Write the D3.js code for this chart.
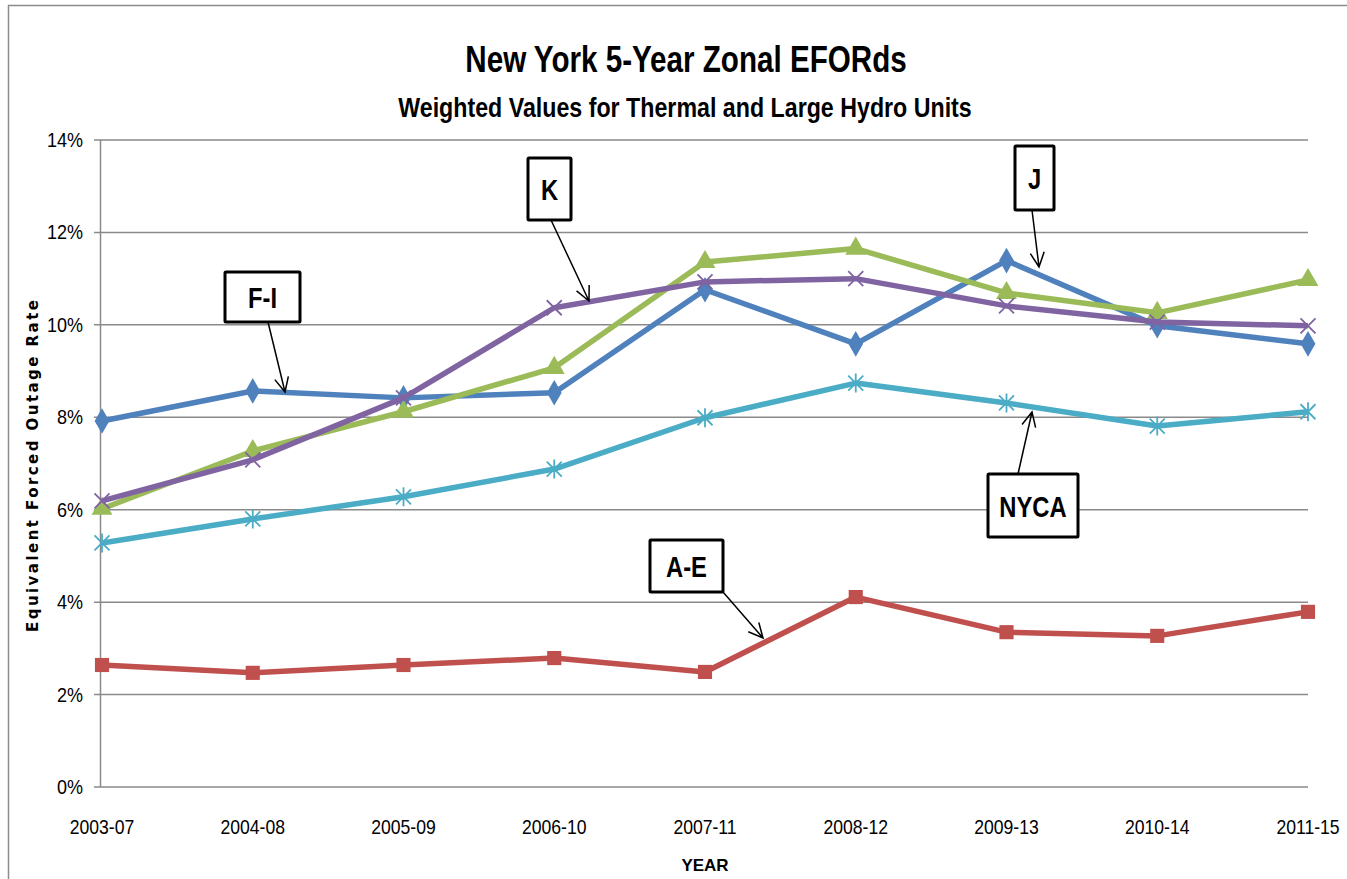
<!DOCTYPE html>
<html>
<head>
<meta charset="utf-8">
<script src="https://cdn.jsdelivr.net/npm/d3@7"></script>
<style>
  body { margin: 0; background: #fff; }
  text { font-family: "Liberation Sans", Arial, sans-serif; }
</style>
</head>
<body>
<script>
(function (d3) {
  'use strict'
  const w = 1347
  const h = 879

  const years = ['2003-07', '2004-08', '2005-09', '2006-10', '2007-11', '2008-12', '2009-13', '2010-14', '2011-15']
  const fi   = [7.92, 8.57, 8.42, 8.53, 10.76, 9.59, 11.39, 9.98, 9.59]
  const ae   = [2.64, 2.47, 2.64, 2.79, 2.49, 4.11, 3.35, 3.27, 3.79]
  const j    = [6.02, 7.27, 8.12, 9.07, 11.36, 11.65, 10.69, 10.26, 10.97]
  const k    = [6.19, 7.08, 8.42, 10.37, 10.93, 11.0, 10.41, 10.06, 9.98]
  const nyca = [5.28, 5.80, 6.28, 6.88, 7.99, 8.74, 8.31, 7.81, 8.12]
  const yTicks = [0, 2, 4, 6, 8, 10, 12, 14]

  const series = [
    { name: 'F-I', values: fi, color: '#4F81BD', marker: 'diamond' },
    { name: 'A-E', values: ae, color: '#C0504D', marker: 'square' },
    { name: 'J', values: j, color: '#9BBB59', marker: 'triangle' },
    { name: 'K', values: k, color: '#8064A2', marker: 'cross' },
    { name: 'NYCA', values: nyca, color: '#4BACC6', marker: 'star' }
  ]

  // callout boxes: box left/top/width/height, arrow from -> to
  const callouts = [
    { text: 'F-I', x: 225, y: 272, bw: 75, bh: 50, from: [268, 322], to: [285, 392] },
    { text: 'K', x: 528, y: 158, bw: 43, bh: 62, from: [551, 220], to: [589, 301] },
    { text: 'J', x: 1015, y: 146, bw: 39, bh: 64, from: [1032, 210], to: [1039, 267] },
    { text: 'NYCA', x: 988, y: 474, bw: 90, bh: 63, from: [1018, 474], to: [1032, 412] },
    { text: 'A-E', x: 650, y: 540, bw: 73, bh: 52, from: [723, 592], to: [763, 638] }
  ]

  const svg = d3.select('body').append('svg')
    .attr('width', w)
    .attr('height', h)

  // narrow text, a stand-in for the condensed original face
  function narrow (sel, x0, y0, sx) {
    return sel.attr('transform', 'translate(' + x0 + ',' + y0 + ') scale(' + sx + ',1)')
  }

  // outer chart border
  svg.append('path')
    .attr('d', 'M8.5,' + h + 'V5.5H' + w)
    .attr('fill', 'none')
    .attr('stroke', '#8c8c8c')
    .attr('stroke-width', 1.5)

  const x = d3.scalePoint().domain(years).range([102, 1308])
  const y = d3.scaleLinear().domain([0, 14]).range([787, 140])

  // gridlines
  svg.append('g')
    .selectAll('line')
    .data(yTicks)
    .enter().append('line')
    .attr('x1', 94)
    .attr('x2', 1308)
    .attr('y1', d => y(d))
    .attr('y2', d => y(d))
    .attr('stroke', '#8a8a8a')
    .attr('stroke-width', 1.5)

  svg.append('line')
    .attr('x1', 100.5).attr('x2', 100.5)
    .attr('y1', y(14)).attr('y2', y(0))
    .attr('stroke', '#8a8a8a')
    .attr('stroke-width', 1.5)

  svg.append('g')
    .selectAll('text')
    .data(yTicks)
    .enter().append('text')
    .each(function (d) { narrow(d3.select(this), 83, y(d) + 7, 0.9) })
    .attr('text-anchor', 'end')
    .attr('font-size', 20)
    .text(d => d + '%')

  svg.append('g')
    .selectAll('text')
    .data(years)
    .enter().append('text')
    .each(function (d) { narrow(d3.select(this), x(d), 834, 0.88) })
    .attr('text-anchor', 'middle')
    .attr('font-size', 20)
    .text(d => d)

  // titles
  narrow(svg.append('text'), 686, 72, 0.8)
    .attr('text-anchor', 'middle')
    .attr('font-size', 37)
    .attr('font-weight', 'bold')
    .text('New York 5-Year Zonal EFORds')

  narrow(svg.append('text'), 685, 117, 0.86)
    .attr('text-anchor', 'middle')
    .attr('font-size', 27)
    .attr('font-weight', 'bold')
    .text('Weighted Values for Thermal and Large Hydro Units')

  svg.append('text')
    .attr('transform', 'translate(38,466) rotate(-90)')
    .attr('text-anchor', 'middle')
    .attr('font-size', 15)
    .attr('font-weight', 'bold')
    .attr('textLength', 332)
    .attr('lengthAdjust', 'spacing')
    .style('font-family', 'DejaVu Sans, sans-serif')
    .text('Equivalent Forced Outage Rate')

  svg.append('text')
    .attr('x', 705).attr('y', 871)
    .attr('text-anchor', 'middle')
    .attr('font-size', 17)
    .attr('font-weight', 'bold')
    .text('YEAR')

  const line = d3.line()
    .x((d, i) => x(years[i]))
    .y(d => y(d))

  const symbols = {
    diamond: d3.symbol().type(d3.symbolDiamond).size(190),
    square: d3.symbol().type(d3.symbolSquare).size(200),
    triangle: d3.symbol().type(d3.symbolTriangle).size(190)
  }

  series.forEach(function (s) {
    const g = svg.append('g')
    g.append('path')
      .datum(s.values)
      .attr('d', line)
      .attr('fill', 'none')
      .attr('stroke', s.color)
      .attr('stroke-width', 5.5)
      .attr('stroke-linejoin', 'round')

    const pts = g.selectAll('.pt')
      .data(s.values)
      .enter().append('g')
      .attr('transform', (d, i) => 'translate(' + x(years[i]) + ',' + y(d) + ')')

    if (symbols[s.marker]) {
      pts.append('path')
        .attr('d', symbols[s.marker]())
        .attr('fill', s.color)
    } else {
      const r = 7.5
      pts.append('path')
        .attr('d', 'M' + -r + ',' + -r + 'L' + r + ',' + r + 'M' + -r + ',' + r + 'L' + r + ',' + -r +
          (s.marker === 'star' ? 'M0,' + (-r - 2) + 'V' + (r + 2) : ''))
        .attr('stroke', s.color)
        .attr('stroke-width', 1.8)
        .attr('fill', 'none')
    }
  })

  // callouts
  const cg = svg.append('g')
  callouts.forEach(function (c) {
    cg.append('rect')
      .attr('x', c.x).attr('y', c.y)
      .attr('width', c.bw).attr('height', c.bh)
      .attr('fill', '#fff')
      .attr('stroke', '#000')
      .attr('stroke-width', 3)
      .attr('rx', 1)
    narrow(cg.append('text'), c.x + c.bw / 2, c.y + c.bh / 2 + 11, 0.82)
      .attr('text-anchor', 'middle')
      .attr('font-size', 29)
      .attr('font-weight', 'bold')
      .text(c.text)

    const ang = Math.atan2(c.to[1] - c.from[1], c.to[0] - c.from[0])
    const hl = 16
    const spread = 0.45
    const p1 = [c.to[0] - hl * Math.cos(ang - spread), c.to[1] - hl * Math.sin(ang - spread)]
    const p2 = [c.to[0] - hl * Math.cos(ang + spread), c.to[1] - hl * Math.sin(ang + spread)]
    cg.append('path')
      .attr('d', 'M' + c.from + 'L' + c.to + 'M' + p1 + 'L' + c.to + 'L' + p2)
      .attr('fill', 'none')
      .attr('stroke', '#000')
      .attr('stroke-width', 1.5)
  })

}(d3))
</script>
</body>
</html>
